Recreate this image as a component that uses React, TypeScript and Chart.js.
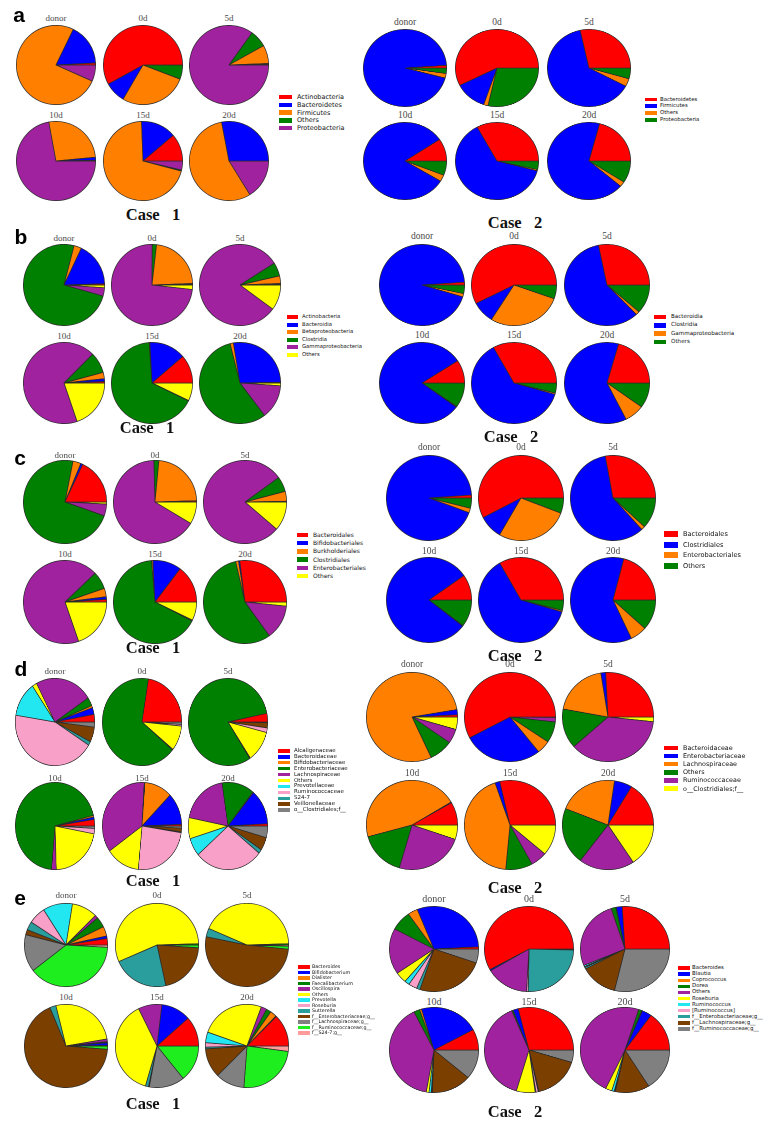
import React, { useEffect, useRef } from "react";
import { Chart, registerables } from "chart.js";

Chart.register(...registerables);

const timepoints = ["donor", "0d", "5d", "10d", "15d", "20d"];

const RED = "#ff0000";
const BLUE = "#0000ff";
const ORANGE = "#ff7f00";
const GREEN = "#008000";
const PURPLE = "#a0229f";
const YELLOW = "#ffff00";
const CYAN = "#22e6f0";
const PINK = "#f9a0c8";
const TEAL = "#2a9d9d";
const BROWN = "#7b3f00";
const GRAY = "#808080";
const LIME = "#1eee1e";
const SALMON = "#ff9b9b";

// ---- a: phylum ----
const a1Labels = ["Actinobacteria", "Bacteroidetes", "Firmicutes", "Others", "Proteobacteria"];
const a1Colors = [RED, BLUE, ORANGE, GREEN, PURPLE];
const a1Values = [
  [0.8, 17, 75.5, 0, 6.7],
  [58, 8.6, 27.6, 5.8, 0],
  [0.3, 0.3, 7.5, 7, 84.9],
  [0.3, 1.2, 26.4, 0, 72.1],
  [11.2, 14.4, 70.3, 0.4, 3.7],
  [0, 28, 55.8, 0, 16.2],
];
const a2Labels = ["Bacteroidetes", "Firmicutes", "Others", "Proteobacteria"];
const a2Colors = [RED, BLUE, ORANGE, GREEN];
const a2Values = [
  [1.1, 94.7, 1.9, 2.3],
  [57.4, 12.4, 1.7, 28.5],
  [28.4, 63.8, 3.3, 4.5],
  [9.4, 81.9, 2.7, 6],
  [32.9, 63, 0.5, 3.6],
  [20.9, 67.8, 2.1, 9.2],
];

// ---- b: class ----
const b1Labels = ["Actinobacteria", "Bacteroidia", "Betaproteobacteria", "Clostridia", "Gammaproteobacteria", "Others"];
const b1Colors = [RED, BLUE, ORANGE, GREEN, PURPLE, YELLOW];
const b1Values = [
  [0.5, 17.5, 3, 74.6, 3.3, 1.1],
  [0.3, 0.3, 22.6, 1.7, 73.3, 1.8],
  [0.3, 0.3, 3, 5.4, 80.9, 10.1],
  [0.6, 1.1, 2.5, 8.3, 67.7, 19.8],
  [11.3, 14.5, 0.3, 66.6, 0.2, 7.1],
  [0.3, 27.3, 1.3, 56.4, 13.6, 1.1],
];
const b2Labels = ["Bacteroidia", "Clostridia", "Gammaproteobacteria", "Others"];
const b2Colors = [RED, BLUE, ORANGE, GREEN];
const b2Values = [
  [1.1, 94.2, 1.3, 3.4],
  [57.5, 8.6, 28.4, 5.5],
  [28.2, 58.9, 1.4, 11.5],
  [9.2, 80.7, 0.3, 9.8],
  [33, 62.5, 0.5, 4],
  [20.6, 61.8, 7.6, 10],
];

// ---- c: order ----
const c1Labels = ["Bacteroidales", "Bifidobacteriales", "Burkholderiales", "Clostridiales", "Enterobacteriales", "Others"];
const c1Colors = [RED, BLUE, ORANGE, GREEN, PURPLE, YELLOW];
const c1Values = [
  [18, 0.8, 3.1, 72.7, 4.6, 0.8],
  [0.4, 0.1, 23, 1.9, 66, 8.6],
  [0.3, 0, 3.8, 5.9, 78.7, 11.3],
  [1, 1, 3.3, 6.8, 68.2, 19.7],
  [14.7, 11.1, 0.5, 66.2, 0.3, 7.2],
  [27, 0.5, 1.1, 56.3, 13.5, 1.6],
];
const c2Labels = ["Bacteroidales", "Clostridiales", "Enterobacteriales", "Others"];
const c2Colors = [RED, BLUE, ORANGE, GREEN];
const c2Values = [
  [1.1, 93.3, 1.7, 3.9],
  [57.6, 9, 27.6, 5.8],
  [27.9, 58.9, 1.4, 11.8],
  [9.7, 79.8, 0.2, 10.3],
  [33.3, 62.2, 0.5, 4],
  [20.9, 61.2, 6.3, 11.6],
];

// ---- d: family ----
const d1Labels = [
  "Alcaligenaceae", "Bacteroidaceae", "Bifidobacteriaceae", "Enterobacteriaceae", "Lachnospiraceae",
  "Others", "Prevotellaceae", "Ruminococcaceae", "S24-7", "Veillonellaceae", "o__Clostridiales;f__",
];
const d1Colors = [RED, BLUE, ORANGE, GREEN, PURPLE, YELLOW, CYAN, PINK, TEAL, BROWN, GRAY];
const d1Values = [
  [2.8, 2.5, 0.8, 3.2, 23.4, 1.9, 12.9, 43.6, 1.4, 5.6, 1.9],
  [22.4, 0, 0, 66.5, 0.3, 9.3, 0, 0.6, 0, 0, 0.9],
  [3.2, 0, 0, 81, 0.3, 11.6, 0, 1.7, 0, 1.9, 0.3],
  [2.4, 0.9, 0.6, 69.7, 1.9, 21.6, 0, 2, 0, 0, 0.9],
  [0.6, 11.9, 11.3, 0.3, 35.6, 13.8, 0, 24, 0.3, 1.4, 0.8],
  [0.8, 13.1, 0.3, 13.2, 19.5, 7.8, 6.7, 27.9, 1.5, 4.9, 4.3],
];
const d2Labels = ["Bacteroidaceae", "Enterobacteriaceae", "Lachnospiraceae", "Others", "Ruminococcaceae", "o__Clostridiales;f__"];
const d2Colors = [RED, BLUE, ORANGE, GREEN, PURPLE, YELLOW];
const d2Values = [
  [0.8, 1.9, 79.2, 8.4, 5.2, 4.5],
  [57.7, 28.1, 4.8, 7.6, 1.6, 0.2],
  [25.8, 1.7, 19.6, 14.4, 36.8, 1.7],
  [8.3, 0.3, 45.6, 16.3, 24.3, 5.2],
  [28.6, 1.7, 43.2, 9.5, 5.8, 11.2],
  [16.4, 6.3, 21.3, 20.6, 19.7, 15.7],
];

// ---- e: genus ----
const e1Labels = [
  "Bacteroides", "Bifidobacterium", "Dialister", "Faecalibacterium", "Oscillospira", "Others", "Prevotella",
  "Roseburia", "Sutterella", "f__Enterobacteriaceae;g__", "f__Lachnospiraceae;g__", "f__Ruminococcaceae;g__", "f__S24-7;g__",
];
const e1Colors = [RED, BLUE, ORANGE, GREEN, PURPLE, YELLOW, CYAN, PINK, TEAL, BROWN, GRAY, LIME, SALMON];
const e1Values = [
  [2.5, 1, 3.7, 4.1, 1.2, 10, 11.5, 6.7, 3.3, 2, 14.5, 38.6, 0.9],
  [0, 0, 0, 0.5, 0, 56, 0, 0, 21.9, 20.5, 0, 1.1, 0],
  [0, 0, 0, 0.5, 0, 43, 0, 0, 3.3, 51.6, 0, 1.1, 0.5],
  [0.2, 1, 0.2, 0.3, 1, 26.2, 0, 0, 2.4, 67.4, 0, 1.3, 0],
  [11.6, 11.5, 0, 0, 9.2, 38.2, 0, 0, 1.2, 0.3, 13.8, 14.2, 0],
  [12.5, 0.3, 2.5, 1.9, 2.2, 25.2, 4.1, 1.7, 0.7, 11.4, 11.3, 24.1, 2.1],
];
const e2Labels = [
  "Bacteroides", "Blautia", "Coprococcus", "Dorea", "Others", "Roseburia", "Ruminococcus", "[Ruminococcus]",
  "f__Enterobacteriaceae;g__", "f__Lachnospiraceae;g__", "f__Ruminococcaceae;g__",
];
const e2Colors = [RED, BLUE, ORANGE, GREEN, PURPLE, YELLOW, CYAN, PINK, TEAL, BROWN, GRAY];
const e2Values = [
  [0.8, 30.3, 3.6, 7.5, 17.4, 4.1, 1.8, 3.1, 1.3, 24.8, 5.3],
  [58, 0.5, 0, 0, 15.6, 0, 0, 0.6, 24.9, 0.4, 0],
  [26, 2.1, 0.2, 1.7, 26.3, 0, 0.5, 0.3, 0.6, 13.5, 28.8],
  [7.9, 21.6, 0.7, 2.2, 39.8, 1, 0.8, 0.2, 0.2, 14.4, 11.2],
  [28.9, 1.9, 0, 0.5, 39.1, 6.8, 0.3, 0.8, 0.3, 16.7, 4.7],
  [15.1, 3.5, 0.3, 1.1, 47.9, 2.3, 0.9, 0.2, 0.2, 12.4, 16.1],
];

const rowLetters = ["a", "b", "c", "d", "e"];
const rowLetterPos = [
  [19, 14],
  [21, 236],
  [20, 457],
  [21, 668],
  [20, 897],
];

type Layout = {
  cx: number[];
  cy: number[];
  rx: number;
  ry: number;
  titleY: number[];
  titleSize: number;
  swX: number;
  swW: number;
  textX: number;
  legY0: number;
  legDy: number;
  legFont: number;
  caseText: string;
  caseX: number;
  caseY: number;
};

const layouts: Record<string, Layout> = {
  a1: { cx: [56, 143, 229], cy: [65, 161], rx: 40, ry: 40, titleY: [18, 115], titleSize: 9, swX: 279, swW: 13, textX: 297, legY0: 97, legDy: 7.8, legFont: 6.5, caseText: "Case   1", caseX: 153, caseY: 215 },
  a2: { cx: [405, 497, 589], cy: [68, 161], rx: 42, ry: 39, titleY: [23, 116], titleSize: 9.5, swX: 645, swW: 12, textX: 660, legY0: 99.5, legDy: 6.8, legFont: 5.4, caseText: "Case   2", caseX: 515, caseY: 223 },
  b1: { cx: [64, 152, 240], cy: [285, 383], rx: 41, ry: 41, titleY: [238, 336], titleSize: 9, swX: 287, swW: 11, textX: 302, legY0: 317, legDy: 7.6, legFont: 5.3, caseText: "Case   1", caseX: 147, caseY: 428 },
  b2: { cx: [422, 514, 607], cy: [285, 383], rx: 43, ry: 41, titleY: [237, 336], titleSize: 9.5, swX: 654, swW: 12, textX: 671, legY0: 317, legDy: 8.3, legFont: 5.6, caseText: "Case   2", caseX: 511, caseY: 437 },
  c1: { cx: [65, 155, 245], cy: [502, 602], rx: 42, ry: 42, titleY: [455, 554], titleSize: 9, swX: 297, swW: 11, textX: 313, legY0: 535, legDy: 8.2, legFont: 6.0, caseText: "Case   1", caseX: 153, caseY: 648 },
  c2: { cx: [429, 521, 613], cy: [498, 600], rx: 43, ry: 43, titleY: [448, 552], titleSize: 9.5, swX: 664, swW: 14, textX: 683, legY0: 534, legDy: 10.6, legFont: 6.6, caseText: "Case   2", caseX: 515, caseY: 656 },
  d1: { cx: [55, 142, 228], cy: [722, 826], rx: 40, ry: 44, titleY: [671, 778], titleSize: 9, swX: 278, swW: 12, textX: 294, legY0: 751, legDy: 5.9, legFont: 5.5, caseText: "Case   1", caseX: 153, caseY: 881 },
  d2: { cx: [412, 510, 608], cy: [717, 825], rx: 46, ry: 45, titleY: [665, 774], titleSize: 9.5, swX: 664, swW: 14, textX: 683, legY0: 748, legDy: 8.1, legFont: 6.4, caseText: "Case   2", caseX: 515, caseY: 888 },
  e1: { cx: [66, 157, 247], cy: [945, 1046], rx: 42, ry: 42, titleY: [895, 997], titleSize: 9, swX: 298, swW: 12, textX: 312, legY0: 967, legDy: 5.5, legFont: 4.8, caseText: "Case   1", caseX: 153, caseY: 1104 },
  e2: { cx: [434, 529, 625], cy: [949, 1050], rx: 45, ry: 43, titleY: [899, 1002], titleSize: 10, swX: 678, swW: 12, textX: 692, legY0: 968, legDy: 6.1, legFont: 5.4, caseText: "Case   2", caseX: 515, caseY: 1112 },
};

const panels = [
  { key: "a1", labels: a1Labels, colors: a1Colors, values: a1Values },
  { key: "a2", labels: a2Labels, colors: a2Colors, values: a2Values },
  { key: "b1", labels: b1Labels, colors: b1Colors, values: b1Values },
  { key: "b2", labels: b2Labels, colors: b2Colors, values: b2Values },
  { key: "c1", labels: c1Labels, colors: c1Colors, values: c1Values },
  { key: "c2", labels: c2Labels, colors: c2Colors, values: c2Values },
  { key: "d1", labels: d1Labels, colors: d1Colors, values: d1Values },
  { key: "d2", labels: d2Labels, colors: d2Colors, values: d2Values },
  { key: "e1", labels: e1Labels, colors: e1Colors, values: e1Values },
  { key: "e2", labels: e2Labels, colors: e2Colors, values: e2Values },
];

const SERIF = '"Liberation Serif", "DejaVu Serif", serif';
const SANS = '"Liberation Sans", "DejaVu Sans", Arial, sans-serif';
const LEGEND_SANS = '"DejaVu Sans", "Liberation Sans", sans-serif';

function Pie({ values, colors, labels, rx, ry }: { values: number[]; colors: string[]; labels: string[]; rx: number; ry: number }) {
  const ref = useRef<HTMLCanvasElement>(null);
  useEffect(() => {
    const canvas = ref.current;
    if (!canvas) return;
    // matplotlib style: start at 3 o'clock, counter-clockwise => reverse order, clockwise from east
    const data = [...values].reverse();
    const bg = [...colors].reverse();
    const lb = [...labels].reverse();
    const chart = new Chart(canvas, {
      type: "pie",
      data: {
        labels: lb,
        datasets: [
          {
            data,
            backgroundColor: bg,
            borderColor: "#2b2b2b",
            borderWidth: 0.7,
          },
        ],
      },
      options: {
        responsive: false,
        animation: false,
        devicePixelRatio: 2,
        rotation: 90,
        events: [],
        layout: { padding: 0 },
        plugins: { legend: { display: false }, tooltip: { enabled: false }, title: { display: false } },
      },
    });
    return () => chart.destroy();
  }, [values, colors, labels]);
  const D = Math.round(2 * Math.max(rx, ry));
  return <canvas ref={ref} width={D} height={D} style={{ width: 2 * rx, height: 2 * ry, display: "block" }} />;
}

function Panel({ labels, colors, values, layout }: { labels: string[]; colors: string[]; values: number[][]; layout: Layout }) {
  const L = layout;
  return (
    <>
      {values.map((v, i) => {
        const col = i % 3;
        const row = Math.floor(i / 3);
        const cx = L.cx[col];
        const cy = L.cy[row];
        return (
          <React.Fragment key={i}>
            <div style={{ position: "absolute", left: cx - L.rx, top: cy - L.ry }}>
              <Pie values={v} colors={colors} labels={labels} rx={L.rx} ry={L.ry} />
            </div>
            <div
              style={{
                position: "absolute",
                left: cx,
                top: L.titleY[row],
                transform: "translate(-50%, -50%)",
                fontFamily: SERIF,
                fontSize: L.titleSize,
                lineHeight: 1,
                color: "#4a4a4a",
                whiteSpace: "nowrap",
              }}
            >
              {timepoints[i]}
            </div>
          </React.Fragment>
        );
      })}
      {labels.map((lab, i) => {
        const y = L.legY0 + i * L.legDy;
        const sh = Math.max(3, L.legDy * 0.55);
        return (
          <React.Fragment key={"l" + i}>
            <div
              style={{
                position: "absolute",
                left: L.swX,
                top: y - sh / 2,
                width: L.swW,
                height: sh,
                background: colors[i],
              }}
            />
            <div
              style={{
                position: "absolute",
                left: L.textX,
                top: y,
                transform: "translateY(-50%)",
                fontFamily: LEGEND_SANS,
                fontSize: L.legFont,
                lineHeight: 1,
                color: "#111",
                whiteSpace: "nowrap",
              }}
            >
              {lab}
            </div>
          </React.Fragment>
        );
      })}
      <div
        style={{
          position: "absolute",
          left: L.caseX,
          top: L.caseY,
          transform: "translate(-50%, -50%)",
          fontFamily: SERIF,
          fontWeight: "bold",
          fontSize: 16.5,
          lineHeight: 1,
          color: "#111",
          whiteSpace: "pre",
        }}
      >
        {L.caseText}
      </div>
    </>
  );
}

export default function App() {
  return (
    <div style={{ position: "absolute", left: 0, top: 0, width: 770, height: 1124, background: "#fff", overflow: "hidden" }}>
      {panels.map((p) => (
        <Panel key={p.key} labels={p.labels} colors={p.colors} values={p.values} layout={layouts[p.key]} />
      ))}
      {rowLetters.map((l, i) => (
        <div
          key={l}
          style={{
            position: "absolute",
            left: rowLetterPos[i][0],
            top: rowLetterPos[i][1],
            transform: "translate(-50%, -50%)",
            fontFamily: SANS,
            fontWeight: "bold",
            fontSize: 21,
            lineHeight: 1,
            color: "#000",
          }}
        >
          {l}
        </div>
      ))}
    </div>
  );
}
